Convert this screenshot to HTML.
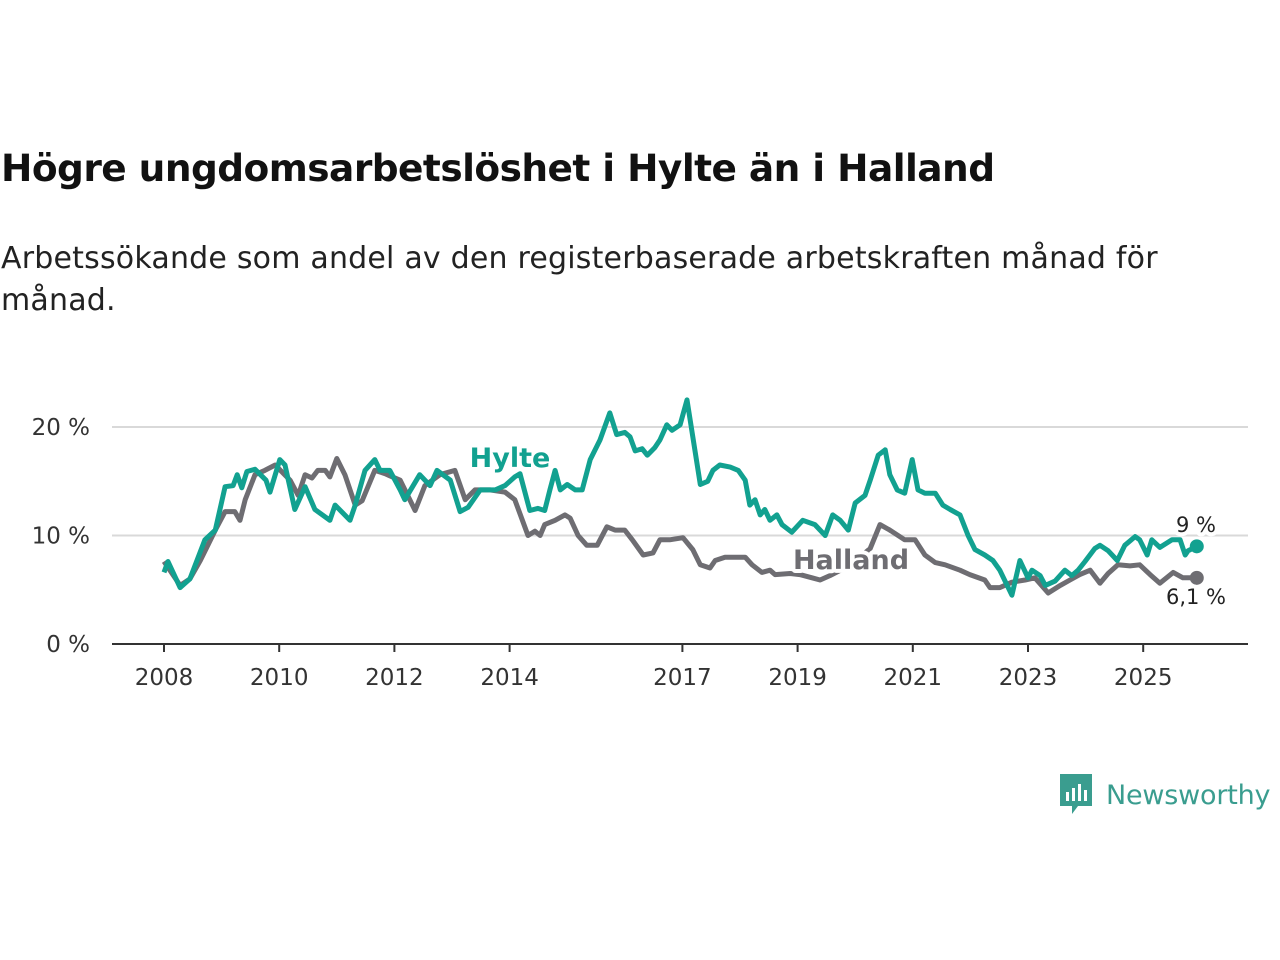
<!DOCTYPE html>
<html><head><meta charset="utf-8"><style>
body{margin:0;width:1280px;height:960px;background:#fff;font-family:"Liberation Sans","DejaVu Sans",sans-serif;overflow:hidden;position:relative}
h1{position:absolute;left:1px;top:146px;margin:0;font-size:37.5px;font-weight:bold;color:#111;font-family:"DejaVu Sans","Liberation Sans",sans-serif;letter-spacing:-0.55px}
p{position:absolute;left:1px;top:238px;margin:0;font-size:30px;line-height:42px;color:#222;width:1240px;font-family:"DejaVu Sans","Liberation Sans",sans-serif;font-weight:normal;letter-spacing:0.2px}
</style></head><body>
<h1>Högre ungdomsarbetslöshet i Hylte än i Halland</h1>
<p>Arbetssökande som andel av den registerbaserade arbetskraften månad för<br>månad.</p>
<svg id="chart" width="1280" height="960" style="position:absolute;left:0;top:0" font-family="DejaVu Sans, Liberation Sans, sans-serif"></svg>
<div style="position:absolute;left:1058px;top:772px;display:flex;align-items:center">
<svg width="36" height="46" viewBox="0 0 36 46"><path d="M2 2h32v32H20l-6 8v-8H2z" fill="#3a9d8f"/><rect x="8" y="20" width="3" height="9" fill="#fff"/><rect x="14" y="16" width="3" height="13" fill="#fff"/><rect x="20" y="12" width="3" height="17" fill="#fff"/><rect x="26" y="18" width="3" height="11" fill="#fff"/></svg>
<span style="font-size:27px;color:#3a9d8f;margin-left:12px;font-family:'DejaVu Sans',sans-serif;letter-spacing:-0.2px">Newsworthy</span></div>
<script>
const hylteDates=[2008,2008.07,2008.28,2008.45,2008.71,2008.89,2009.06,2009.2,2009.27,2009.35,2009.44,2009.58,2009.77,2009.84,2010.01,2010.1,2010.27,2010.45,2010.62,2010.88,2010.97,2011.23,2011.32,2011.49,2011.66,2011.75,2011.92,2012.1,2012.18,2012.44,2012.62,2012.74,2012.97,2013.14,2013.28,2013.49,2013.75,2013.92,2014.09,2014.18,2014.35,2014.49,2014.61,2014.7,2014.79,2014.88,2015,2015.14,2015.26,2015.4,2015.57,2015.74,2015.86,2016,2016.09,2016.18,2016.3,2016.39,2016.52,2016.61,2016.73,2016.82,2016.96,2017.08,2017.31,2017.44,2017.53,2017.65,2017.83,2017.97,2018.09,2018.17,2018.26,2018.35,2018.43,2018.52,2018.64,2018.73,2018.9,2019.09,2019.3,2019.48,2019.61,2019.74,2019.88,2020,2020.17,2020.26,2020.4,2020.52,2020.6,2020.73,2020.86,2020.99,2021.09,2021.21,2021.39,2021.52,2021.65,2021.82,2021.96,2022.08,2022.25,2022.39,2022.51,2022.72,2022.86,2023,2023.07,2023.21,2023.3,2023.47,2023.64,2023.76,2023.87,2023.99,2024.16,2024.25,2024.39,2024.55,2024.68,2024.86,2024.94,2025.07,2025.15,2025.29,2025.5,2025.64,2025.73,2025.78,2025.93];
const hylteValues=[6.6,7.6,5.2,6,9.6,10.5,14.5,14.6,15.6,14.4,15.9,16.1,15.1,14,17,16.5,12.4,14.5,12.4,11.4,12.8,11.4,12.8,16,17,16,16,14.2,13.3,15.6,14.6,16,15.1,12.2,12.6,14.2,14.2,14.6,15.4,15.7,12.3,12.5,12.3,14.2,16,14.2,14.7,14.2,14.2,17,18.8,21.3,19.3,19.5,19.1,17.8,18,17.4,18.1,18.8,20.2,19.7,20.2,22.5,14.7,15,16,16.5,16.3,16,15.1,12.8,13.3,11.9,12.4,11.4,11.9,11,10.3,11.4,11,10,11.9,11.4,10.5,13,13.7,15.1,17.4,17.9,15.6,14.2,13.9,17,14.2,13.9,13.9,12.8,12.4,11.9,10,8.7,8.2,7.7,6.8,4.5,7.7,6.1,6.8,6.3,5.4,5.8,6.8,6.3,6.8,7.6,8.8,9.1,8.6,7.7,9.1,9.9,9.6,8.2,9.6,8.9,9.6,9.6,8.2,8.6,9];
const hallandDates=[2008,2008.28,2008.45,2008.63,2008.89,2009.06,2009.23,2009.32,2009.41,2009.58,2009.75,2009.93,2010.19,2010.33,2010.45,2010.57,2010.67,2010.8,2010.88,2011,2011.14,2011.32,2011.44,2011.66,2011.84,2011.92,2012.1,2012.36,2012.53,2012.79,2013.05,2013.23,2013.4,2013.66,2013.92,2014.09,2014.32,2014.44,2014.53,2014.61,2014.79,2014.96,2015.05,2015.19,2015.34,2015.52,2015.69,2015.83,2016,2016.13,2016.32,2016.49,2016.61,2016.78,2017.01,2017.18,2017.31,2017.48,2017.57,2017.74,2018.09,2018.21,2018.38,2018.52,2018.61,2018.87,2019.04,2019.25,2019.39,2019.56,2019.82,2020.08,2020.26,2020.43,2020.6,2020.86,2021.04,2021.21,2021.39,2021.56,2021.82,2021.99,2022.25,2022.34,2022.51,2022.72,2022.95,2023.12,2023.35,2023.56,2023.73,2023.9,2024.08,2024.25,2024.39,2024.56,2024.77,2024.94,2025.12,2025.29,2025.52,2025.69,2025.93];
const hallandValues=[7.6,5.4,6,7.7,10.5,12.2,12.2,11.4,13.3,15.6,16,16.5,15.1,13.7,15.6,15.3,16,16,15.4,17.1,15.6,12.8,13.2,16,15.7,15.5,15.1,12.3,14.6,15.6,16,13.3,14.2,14.2,14,13.3,10,10.4,10,11,11.4,11.9,11.6,10,9.1,9.1,10.8,10.5,10.5,9.6,8.2,8.4,9.6,9.6,9.8,8.7,7.3,7,7.7,8,8,7.3,6.6,6.8,6.4,6.5,6.4,6.1,5.9,6.3,7,8,8.8,11,10.5,9.6,9.6,8.2,7.5,7.3,6.8,6.4,5.9,5.2,5.2,5.7,5.9,6.1,4.7,5.4,5.9,6.4,6.8,5.6,6.5,7.3,7.2,7.3,6.4,5.6,6.6,6.1,6.1];
const yTicks=[0,10,20];
const xTicks=[2008,2010,2012,2014,2017,2019,2021,2023,2025];
const xs=y=>164+(y-2008)*57.6;
const ys=v=>644-v*10.85;
const svg=document.getElementById('chart');
const NS='http://www.w3.org/2000/svg';
function mk(t,a){const e=document.createElementNS(NS,t);for(const k in a)e.setAttribute(k,a[k]);svg.appendChild(e);return e;}
yTicks.forEach(v=>{
 if(v>0){const g=mk('line',{x1:112,x2:1248,y1:ys(v),y2:ys(v),stroke:'#d9d9d9','stroke-width':2});
 
 }
 const t=mk('text',{x:90,y:ys(v)+8,'text-anchor':'end','font-size':23,fill:'#333'});t.textContent=v+' %';
 
 
});
const ax=mk('line',{x1:112,x2:1248,y1:644,y2:644,stroke:'#333','stroke-width':2});


xTicks.forEach(y=>{
 mk('line',{x1:xs(y),x2:xs(y),y1:644,y2:652,stroke:'#333','stroke-width':2});
 const t=mk('text',{x:xs(y),y:685,'text-anchor':'middle','font-size':23,fill:'#333'});t.textContent=y;
 
 
});
function line(d,v,c,name){
 const p=mk('path',{d:d.map((x,i)=>(i?'L':'M')+xs(x).toFixed(1)+','+ys(v[i]).toFixed(1)).join(''),fill:'none',stroke:c,'stroke-width':5,'stroke-linejoin':'round'});
 
 
 const dot=mk('circle',{cx:xs(d[d.length-1]),cy:ys(v[v.length-1]),r:7,fill:c});
 
 
}
line(hallandDates,hallandValues,'#6e6d72','halland-line');
line(hylteDates,hylteValues,'#12a190','hylte-line');
function lab(x,y,txt,c,size,w,name,halo){
 const t=mk('text',{x:x,y:y,'text-anchor':'middle','font-size':size,'font-weight':w,fill:c,stroke:halo?'#fff':'none','stroke-width':halo?8:0,'paint-order':'stroke','stroke-linejoin':'round'});t.textContent=txt;
 
 
}
lab(510,467,'Hylte','#12a190',27,'bold','hylte-label',true);
lab(851,569,'Halland','#6e6d72',27,'bold','halland-label',true);
lab(1196,532,'9 %','#222',21,'normal','hylte-end-value',true);
lab(1196,604,'6,1 %','#222',21,'normal','halland-end-value',true);
</script>
</body></html>
